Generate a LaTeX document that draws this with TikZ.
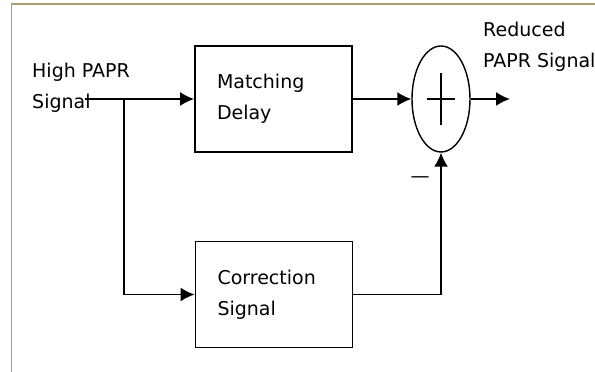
\documentclass[tikz,border=0pt]{standalone}
\usepackage{fontspec}
\setmainfont{DejaVu Sans}
\usepackage{tikz}
\usetikzlibrary{shapes,arrows.meta,positioning}
\definecolor{framecol}{RGB}{168,160,112}

\begin{document}
\begin{tikzpicture}[
                x=1pt, y=1pt,
                every node/.style={font=\fontsize{19}{31}\selectfont},
                block/.style={rectangle, draw, line width=1.8pt, minimum width=157, minimum height=106, text width=113, inner xsep=22, align=left},
                label/.style={anchor=north west, align=left, inner sep=0},
                arrow/.style={draw, line width=1.8pt, -{Latex[length=14pt,width=14pt]}}
            ]
            \useasboundingbox (0,0) rectangle (595,372);
            \draw[framecol, line width=1.5pt] (11.5,0) -- (11.5,368) -- (595,368);

            % Nodes
            \node (delay) at (273.5,273) [block] {Matching\\Delay};
            \node (corr) at (274,77.5) [block] {Correction\\Signal};
            \node [draw, ellipse, line width=1.4pt, minimum width=58, minimum height=106, inner sep=0] (sum) at (441,273) {};
            \node [label] (input) at (32,309) {High PAPR\\Signal};
            \node [label] (output) at (483,350) {Reduced\\PAPR Signal};
            \node (minus) at (420,192) {---};
            \coordinate (in) at (85,273);
            \coordinate (split) at (124,273);
            \coordinate (out) at (510,273);

            % Plus sign
            \draw[line width=1.8pt] ([xshift=-14pt]sum.center) -- ([xshift=14pt]sum.center);
            \draw[line width=1.8pt] ([yshift=-26pt]sum.center) -- ([yshift=26pt]sum.center);

            % Arrows
            \draw[arrow] (in) -- (delay);
            \draw[arrow] (split) |- (corr);
            \draw[arrow] (delay) -- (sum);
            \draw[arrow] (sum) -- (out);
            \draw[arrow] (corr) -| (sum);

\end{tikzpicture}
\end{document}
